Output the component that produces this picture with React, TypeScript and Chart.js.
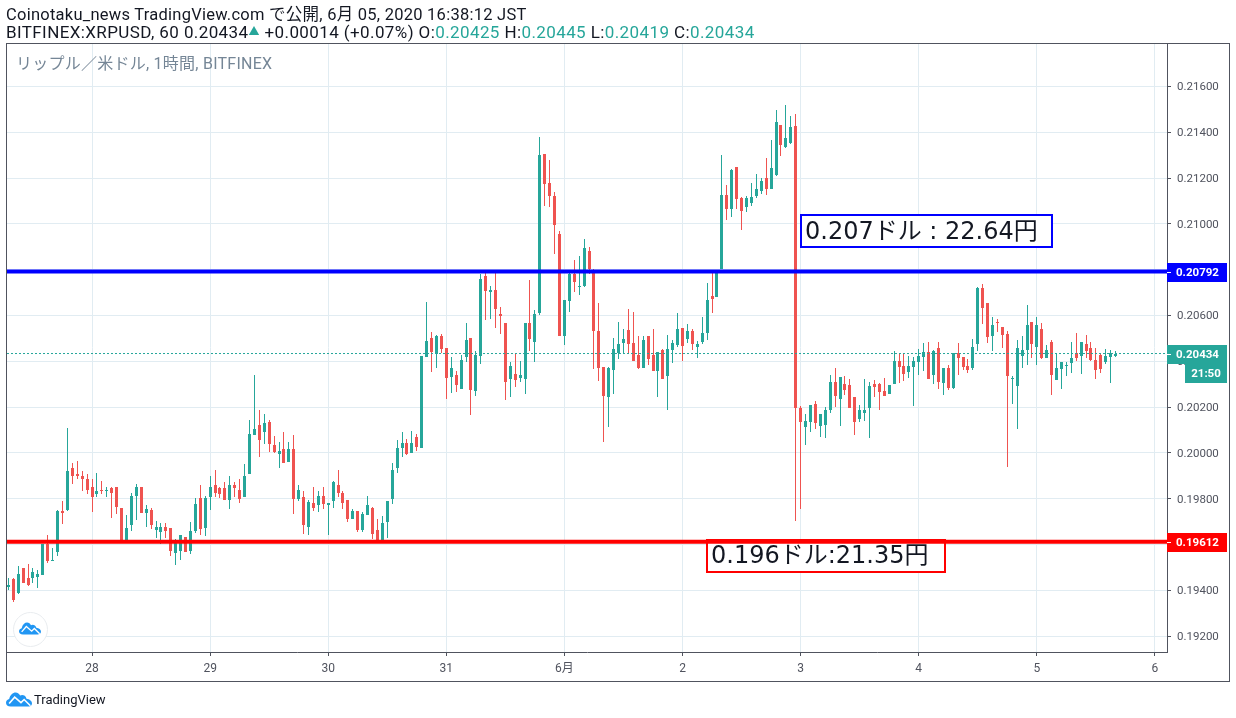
import React, { useEffect, useRef } from "react";
import { Chart, registerables } from "chart.js";

Chart.register(...registerables);

// Hour offsets are counted from 27 May 00:00; the first candle is the 07:00 bar.
const firstHour = 7;

const opens = [
  0.19415,0.19449,0.19388,0.19497,0.19454,0.19454,0.19458,0.19467,0.19601,0.19527,
  0.19567,0.19745,0.19749,0.19936,0.19906,0.19897,0.19888,0.19849,0.19819,0.19840,
  0.19832,0.19845,0.19853,0.19758,0.19620,0.19684,0.19810,0.19849,0.19736,0.19749,
  0.19662,0.19653,0.19675,0.19671,0.19562,0.19571,0.19632,0.19571,0.19658,0.19801,
  0.19671,0.19806,0.19858,0.19845,0.19845,0.19793,0.19858,0.19840,0.19806,0.19906,
  0.20079,0.20123,0.20092,0.20136,0.20036,0.19997,0.20019,0.19962,0.20019,0.19797,
  0.19806,0.19675,0.19780,0.19771,0.19814,0.19771,0.19788,0.19862,0.19827,0.19793,
  0.19710,0.19745,0.19662,0.19727,0.19758,0.19662,0.19614,0.19697,0.19797,0.19936,
  0.20023,0.20045,0.20001,0.20071,0.20023,0.20419,0.20501,0.20432,0.20510,0.20458,
  0.20332,0.20341,0.20280,0.20419,0.20501,0.20271,0.20423,0.20771,0.20701,0.20710,
  0.20606,0.20567,0.20323,0.20345,0.20328,0.20323,0.20567,0.20484,0.20610,0.21306,
  0.21180,0.21123,0.20954,0.20510,0.20662,0.20780,0.20723,0.20728,0.20880,0.20794,
  0.20532,0.20375,0.20245,0.20362,0.20436,0.20480,0.20536,0.20480,0.20428,0.20371,
  0.20510,0.20428,0.20358,0.20449,0.20336,0.20449,0.20471,0.20545,0.20497,0.20532,
  0.20463,0.20485,0.20524,0.20685,0.20680,0.20802,0.21128,0.21063,0.21250,0.21115,
  0.21076,0.21093,0.21123,0.21145,0.21202,0.21154,0.21215,0.21432,0.21337,0.21354,
  0.21428,0.20197,0.20115,0.20137,0.20215,0.20119,0.20124,0.20189,0.20310,0.20237,
  0.20302,0.20297,0.20245,0.20150,0.20176,0.20197,0.20302,0.20302,0.20271,0.20258,
  0.20302,0.20402,0.20380,0.20354,0.20376,0.20397,0.20419,0.20441,0.20341,0.20458,
  0.20306,0.20371,0.20284,0.20436,0.20419,0.20380,0.20371,0.20476,0.20719,0.20654,
  0.20511,0.20571,0.20550,0.20519,0.20324,0.20293,0.20424,0.20450,0.20571,0.20463,
  0.20541,0.20415,0.20484,0.20319,0.20367,0.20380,0.20393,0.20437,0.20424,0.20476,
  0.20458,0.20406,0.20428,0.20398,0.20419,0.20425,
];

const highs = [
  0.19454,0.19454,0.19506,0.19497,0.19514,0.19497,0.19488,0.19601,0.19640,0.19584,
  0.19749,0.19788,0.20110,0.19958,0.19966,0.19919,0.19906,0.19888,0.19914,0.19879,
  0.19849,0.19849,0.19853,0.19758,0.19727,0.19823,0.19866,0.19849,0.19771,0.19758,
  0.19701,0.19693,0.19693,0.19671,0.19625,0.19640,0.19632,0.19697,0.19801,0.19858,
  0.19810,0.19901,0.19927,0.19853,0.19871,0.19901,0.19871,0.19884,0.19953,0.20145,
  0.20340,0.20188,0.20171,0.20145,0.20075,0.20049,0.20092,0.20049,0.20079,0.19862,
  0.19832,0.19793,0.19849,0.19832,0.19849,0.19780,0.19879,0.19927,0.19832,0.19793,
  0.19753,0.19745,0.19740,0.19814,0.19762,0.19710,0.19723,0.19788,0.19958,0.20058,
  0.20093,0.20062,0.20097,0.20084,0.20423,0.20658,0.20528,0.20515,0.20519,0.20458,
  0.20419,0.20358,0.20428,0.20567,0.20501,0.20445,0.20783,0.20800,0.20727,0.20788,
  0.20636,0.20567,0.20397,0.20436,0.20402,0.20567,0.20754,0.20623,0.21380,0.21306,
  0.21280,0.21140,0.20971,0.20667,0.20787,0.20841,0.20862,0.20932,0.20901,0.20801,
  0.20654,0.20375,0.20375,0.20501,0.20571,0.20541,0.20628,0.20615,0.20510,0.20510,
  0.20510,0.20541,0.20441,0.20454,0.20515,0.20493,0.20610,0.20545,0.20563,0.20541,
  0.20489,0.20593,0.20741,0.20789,0.20798,0.21302,0.21171,0.21241,0.21250,0.21119,
  0.21123,0.21180,0.21219,0.21202,0.21289,0.21367,0.21497,0.21432,0.21519,0.21471,
  0.21480,0.20206,0.20171,0.20210,0.20228,0.20171,0.20202,0.20341,0.20371,0.20332,
  0.20337,0.20323,0.20245,0.20210,0.20323,0.20310,0.20319,0.20306,0.20328,0.20297,
  0.20445,0.20436,0.20436,0.20423,0.20419,0.20454,0.20480,0.20484,0.20450,0.20484,
  0.20371,0.20384,0.20436,0.20480,0.20419,0.20411,0.20498,0.20724,0.20737,0.20654,
  0.20593,0.20584,0.20550,0.20532,0.20337,0.20493,0.20511,0.20645,0.20571,0.20593,
  0.20567,0.20471,0.20493,0.20432,0.20398,0.20398,0.20484,0.20524,0.20484,0.20515,
  0.20484,0.20458,0.20432,0.20454,0.20450,0.20445,
];

const lows = [
  0.19403,0.19351,0.19385,0.19432,0.19419,0.19432,0.19410,0.19467,0.19519,0.19527,
  0.19549,0.19688,0.19745,0.19866,0.19884,0.19832,0.19819,0.19740,0.19806,0.19819,
  0.19806,0.19714,0.19732,0.19612,0.19612,0.19658,0.19706,0.19736,0.19675,0.19666,
  0.19627,0.19601,0.19627,0.19549,0.19510,0.19532,0.19567,0.19558,0.19649,0.19640,
  0.19636,0.19749,0.19806,0.19801,0.19793,0.19753,0.19806,0.19780,0.19806,0.19906,
  0.20079,0.19984,0.20040,0.20006,0.20001,0.19932,0.19958,0.19962,0.19732,0.19788,
  0.19645,0.19640,0.19745,0.19740,0.19753,0.19640,0.19758,0.19806,0.19753,0.19697,
  0.19710,0.19653,0.19653,0.19727,0.19623,0.19612,0.19612,0.19627,0.19775,0.19913,
  0.19984,0.19992,0.20001,0.20010,0.20023,0.20419,0.20354,0.20371,0.20436,0.20236,
  0.20262,0.20267,0.20280,0.20397,0.20167,0.20249,0.20389,0.20580,0.20584,0.20545,
  0.20519,0.20232,0.20245,0.20288,0.20310,0.20258,0.20445,0.20397,0.20601,0.21080,
  0.21075,0.20867,0.20510,0.20471,0.20615,0.20701,0.20688,0.20723,0.20780,0.20367,
  0.20315,0.20049,0.20115,0.20258,0.20410,0.20432,0.20432,0.20401,0.20367,0.20371,
  0.20384,0.20358,0.20245,0.20323,0.20188,0.20393,0.20462,0.20402,0.20480,0.20450,
  0.20415,0.20476,0.20493,0.20611,0.20680,0.20802,0.21015,0.21028,0.21063,0.20972,
  0.21050,0.21080,0.21115,0.21132,0.21128,0.21154,0.21211,0.21297,0.21332,0.21350,
  0.19703,0.19754,0.20036,0.20093,0.20106,0.20071,0.20063,0.20176,0.20202,0.20119,
  0.20254,0.20197,0.20080,0.20137,0.20141,0.20067,0.20245,0.20189,0.20250,0.20258,
  0.20302,0.20306,0.20315,0.20328,0.20206,0.20341,0.20358,0.20323,0.20302,0.20280,
  0.20254,0.20276,0.20280,0.20341,0.20363,0.20350,0.20363,0.20445,0.20563,0.20480,
  0.20445,0.20528,0.20458,0.19937,0.20215,0.20106,0.20371,0.20385,0.20415,0.20385,
  0.20411,0.20415,0.20254,0.20319,0.20280,0.20337,0.20350,0.20402,0.20345,0.20415,
  0.20402,0.20324,0.20350,0.20389,0.20306,0.20419,
];

const closes = [
  0.19423,0.19358,0.19471,0.19432,0.19423,0.19480,0.19471,0.19601,0.19527,0.19532,
  0.19745,0.19736,0.19919,0.19901,0.19897,0.19888,0.19840,0.19806,0.19832,0.19832,
  0.19840,0.19827,0.19762,0.19620,0.19671,0.19814,0.19849,0.19736,0.19753,0.19684,
  0.19675,0.19675,0.19658,0.19571,0.19614,0.19640,0.19567,0.19658,0.19775,0.19666,
  0.19801,0.19849,0.19827,0.19819,0.19793,0.19862,0.19845,0.19797,0.19897,0.20084,
  0.20106,0.20058,0.20132,0.20040,0.20006,0.20010,0.19958,0.20019,0.19797,0.19840,
  0.19684,0.19784,0.19758,0.19814,0.19775,0.19780,0.19871,0.19823,0.19780,0.19710,
  0.19745,0.19662,0.19732,0.19771,0.19645,0.19614,0.19693,0.19788,0.19927,0.20023,
  0.20045,0.19997,0.20045,0.20027,0.20423,0.20488,0.20441,0.20510,0.20454,0.20328,
  0.20371,0.20297,0.20406,0.20493,0.20275,0.20428,0.20758,0.20706,0.20710,0.20627,
  0.20597,0.20310,0.20380,0.20319,0.20341,0.20567,0.20497,0.20606,0.21301,0.21175,
  0.21123,0.20997,0.20510,0.20667,0.20780,0.20745,0.20728,0.20893,0.20801,0.20532,
  0.20371,0.20249,0.20371,0.20454,0.20475,0.20497,0.20475,0.20401,0.20371,0.20493,
  0.20410,0.20358,0.20441,0.20323,0.20454,0.20480,0.20541,0.20467,0.20532,0.20476,
  0.20476,0.20524,0.20667,0.20672,0.20798,0.21128,0.21063,0.21237,0.21110,0.21058,
  0.21115,0.21119,0.21154,0.21189,0.21154,0.21245,0.21445,0.21345,0.21376,0.21423,
  0.20195,0.20137,0.20141,0.20210,0.20132,0.20171,0.20189,0.20310,0.20250,0.20332,
  0.20276,0.20197,0.20137,0.20189,0.20189,0.20293,0.20289,0.20267,0.20250,0.20297,
  0.20402,0.20376,0.20345,0.20380,0.20402,0.20423,0.20441,0.20323,0.20445,0.20310,
  0.20371,0.20284,0.20436,0.20415,0.20376,0.20363,0.20463,0.20719,0.20632,0.20506,
  0.20558,0.20567,0.20515,0.20337,0.20328,0.20458,0.20450,0.20558,0.20476,0.20558,
  0.20415,0.20450,0.20341,0.20371,0.20398,0.20385,0.20415,0.20415,0.20484,0.20445,
  0.20406,0.20363,0.20367,0.20424,0.20437,0.20434,
];

const priceTicks = [0.192,0.194,0.196,0.198,0.2,0.202,0.204,0.206,0.208,0.21,0.212,0.214,0.216];
const dayTickHours = [24,48,72,96,120,144,168,192,216,240];
const dayTickLabels = ["28","29","30","31","6月","2","3","4","5","6"];

const resistancePrice = 0.20792;
const supportPrice = 0.19612;
const lastPrice = 0.20434;
const countdownLabel = "21:50";
const resistanceNote = "0.207ドル : 22.64円";
const supportNote = "0.196ドル:21.35円";

const UP = "#26a69a";
const DOWN = "#ef5350";
const BLUE = "#0000ff";
const RED = "#ff0000";
const AXIS = "#50535e";
const GRID = "#e1ecf2";
const UI_FONT = 'Roboto, "Noto Sans CJK JP", sans-serif';

const X_MIN = 6.72;
const X_MAX = 242.45;
const Y_MIN = 0.191306;
const Y_MAX = 0.2179;

const hours = opens.map((_, i) => firstHour + i);
const candleColor = (i: number) => (closes[i] >= opens[i] ? UP : DOWN);

const snapBars = {
  id: "snapBars",
  beforeDatasetsDraw(chart: any) {
    chart.getSortedVisibleDatasetMetas().forEach((meta: any) => {
      if (meta.type !== "bar") return;
      meta.data.forEach((el: any) => {
        el.x = Math.round(el.x - 0.5) + 0.5;
        el.y = Math.round(el.y);
        el.base = Math.round(el.base);
      });
    });
  },
};

const noteBoxes = {
  id: "noteBoxes",
  beforeDatasetsDraw(chart: any) {
    const c = chart.ctx;
    const draw = (x: number, y: number, w: number, h: number, color: string, text: string, tx: number, ty: number) => {
      c.save();
      c.fillStyle = "#ffffff";
      c.fillRect(x, y, w, h);
      c.strokeStyle = color;
      c.lineWidth = 2;
      c.strokeRect(x, y, w, h);
      c.fillStyle = "#131722";
      c.font = '24px "DejaVu Sans", "Noto Sans CJK JP", sans-serif';
      c.textBaseline = "alphabetic";
      c.fillText(text, tx, ty);
      c.restore();
    };
    draw(801, 215, 251, 32, BLUE, resistanceNote, 805, 239);
    draw(707, 540, 238, 32, RED, supportNote, 711, 563);
  },
};

const priceTags = {
  id: "priceTags",
  afterDraw(chart: any) {
    const c = chart.ctx;
    const y = chart.scales.y;
    const axisX = chart.chartArea.right;
    const tag = (price: number, color: string) => {
      const py = Math.round(y.getPixelForValue(price));
      c.fillStyle = color;
      c.fillRect(axisX, py - 9, 60, 19);
      c.fillStyle = "#ffffff";
      c.fillRect(axisX, py, 4, 1);
      c.font = `bold 11.5px ${UI_FONT}`;
      c.textAlign = "left";
      c.textBaseline = "middle";
      c.fillText(price.toFixed(5), axisX + 9, py + 1);
    };
    c.save();
    tag(resistancePrice, BLUE);
    tag(supportPrice, RED);
    tag(lastPrice, UP);
    const py = Math.round(y.getPixelForValue(lastPrice));
    c.fillStyle = UP;
    c.fillRect(1185, py + 10, 42, 19);
    c.fillStyle = "#ffffff";
    c.font = `bold 11.5px ${UI_FONT}`;
    c.textAlign = "center";
    c.textBaseline = "middle";
    c.fillText(countdownLabel, 1206, py + 20);
    c.strokeStyle = AXIS;
    c.lineWidth = 1;
    c.strokeRect(6.5, 43.5, 1223, 638);
    c.restore();
  },
};

const Cloud = ({ width, height, style }: { width: number; height: number; style: React.CSSProperties }) => (
  <svg width={width} height={height} viewBox="0 0 33 18" style={{ position: "absolute", ...style }}>
    <path
      d="M6 18C2 18 0 15.5 0 13C0 10.5 2 9 4 8.5C5 3 9 0 12 0C15 0 17 2 18 4C20 2.5 25 3 26 8C30 8.5 33 11 33 14C33 17 30 18 28 18Z"
      fill="#2196f3"
    />
    <polyline points="4,14 11,6 19,13 23,9 31,17" fill="none" stroke="#ffffff" strokeWidth="2" />
  </svg>
);

export default function App() {
  const ref = useRef<HTMLCanvasElement>(null);

  useEffect(() => {
    if (!ref.current) return;
    const levelLine = (price: number) => [
      { x: X_MIN, y: price },
      { x: X_MAX, y: price },
    ];
    const chart = new Chart(ref.current, {
      type: "bar",
      data: {
        datasets: [
          {
            type: "line",
            data: levelLine(resistancePrice),
            borderColor: BLUE,
            borderWidth: 4,
            pointRadius: 0,
            order: 1,
          },
          {
            type: "line",
            data: levelLine(supportPrice),
            borderColor: RED,
            borderWidth: 4,
            pointRadius: 0,
            order: 1,
          },
          {
            type: "line",
            data: levelLine(lastPrice),
            borderColor: UP,
            borderWidth: 1,
            borderDash: [2, 2],
            pointRadius: 0,
            order: 2,
          },
          {
            type: "bar",
            data: hours.map((x, i) => ({ x, y: [opens[i], closes[i]] })),
            backgroundColor: hours.map((_, i) => candleColor(i)),
            barThickness: 3,
            minBarLength: 1,
            grouped: false,
            inflateAmount: 0,
            order: 3,
          },
          {
            type: "bar",
            data: hours.map((x, i) => ({ x, y: [lows[i], highs[i]] })),
            backgroundColor: hours.map((_, i) => candleColor(i)),
            barThickness: 1,
            grouped: false,
            inflateAmount: 0,
            order: 4,
          },
        ] as any,
      },
      options: {
        animation: false,
        responsive: false,
        devicePixelRatio: 1,
        layout: { padding: { left: 7, right: 7, top: 43, bottom: 37 } },
        plugins: { legend: { display: false }, tooltip: { enabled: false } },
        scales: {
          x: {
            type: "linear",
            offset: false,
            min: X_MIN,
            max: X_MAX,
            afterBuildTicks: (s: any) => {
              s.ticks = dayTickHours.map((value) => ({ value }));
            },
            afterFit: (s: any) => {
              s.height = 29;
            },
            grid: { color: GRID, tickColor: AXIS, tickLength: 4, offset: false },
            border: { color: AXIS, width: 1 },
            ticks: {
              autoSkip: false,
              maxRotation: 0,
              padding: 6,
              color: AXIS,
              font: { family: UI_FONT, size: 12 },
              callback: (v: any) => dayTickLabels[dayTickHours.indexOf(v)],
            },
          },
          y: {
            type: "linear",
            position: "right",
            min: Y_MIN,
            max: Y_MAX,
            afterBuildTicks: (s: any) => {
              s.ticks = priceTicks.map((value) => ({ value }));
            },
            afterFit: (s: any) => {
              s.width = 62;
            },
            grid: { color: GRID, tickColor: AXIS, tickLength: 4 },
            border: { color: AXIS, width: 1 },
            ticks: {
              autoSkip: false,
              padding: 6,
              labelOffset: 1,
              color: AXIS,
              font: { family: UI_FONT, size: 11.5 },
              callback: (v: any) => Number(v).toFixed(5),
            },
          },
        },
      } as any,
      plugins: [noteBoxes, snapBars, priceTags],
    });
    return () => chart.destroy();
  }, []);

  const line: React.CSSProperties = {
    position: "absolute",
    left: 6,
    whiteSpace: "nowrap",
    fontFamily: UI_FONT,
    lineHeight: "18px",
    color: "#131722",
  };
  const teal = { color: UP };

  return (
    <div style={{ position: "absolute", left: 0, top: 0, width: 1236, height: 718, background: "#fff", overflow: "hidden" }}>
      <canvas ref={ref} width={1236} height={718} style={{ display: "block", position: "absolute", left: 0, top: 0 }} />
      <div style={{ ...line, top: 6, fontSize: 16.5, letterSpacing: 0.25 }}>
        Coinotaku_news TradingView.com で公開, 6月 05, 2020 16:38:12 JST
      </div>
      <div style={{ ...line, top: 23, fontSize: 17, letterSpacing: 0.4 }}>
        BITFINEX:XRPUSD, 60 0.20434<span style={{ ...teal, fontSize: 11, verticalAlign: 3 }}>▲</span> +0.00014 (+0.07%) O:
        <span style={teal}>0.20425</span> H:<span style={teal}>0.20445</span> L:<span style={teal}>0.20419</span> C:
        <span style={teal}>0.20434</span>
      </div>
      <div
        style={{
          position: "absolute",
          left: 16,
          top: 55,
          whiteSpace: "nowrap",
          fontFamily: UI_FONT,
          fontSize: 16,
          letterSpacing: 0.25,
          lineHeight: "18px",
          color: "#758696",
        }}
      >
        リップル／米ドル, 1時間, BITFINEX
      </div>
      <div
        style={{
          position: "absolute",
          left: 13,
          top: 612,
          width: 33,
          height: 33,
          borderRadius: "50%",
          border: "1px solid #e9ecef",
          background: "#fff",
        }}
      />
      <Cloud width={22} height={13} style={{ left: 19, top: 622 }} />
      <Cloud width={26} height={15} style={{ left: 6, top: 692 }} />
      <div
        style={{
          position: "absolute",
          left: 34,
          top: 692,
          whiteSpace: "nowrap",
          fontFamily: UI_FONT,
          fontSize: 13,
          lineHeight: "16px",
          color: "#131722",
        }}
      >
        TradingView
      </div>
    </div>
  );
}
